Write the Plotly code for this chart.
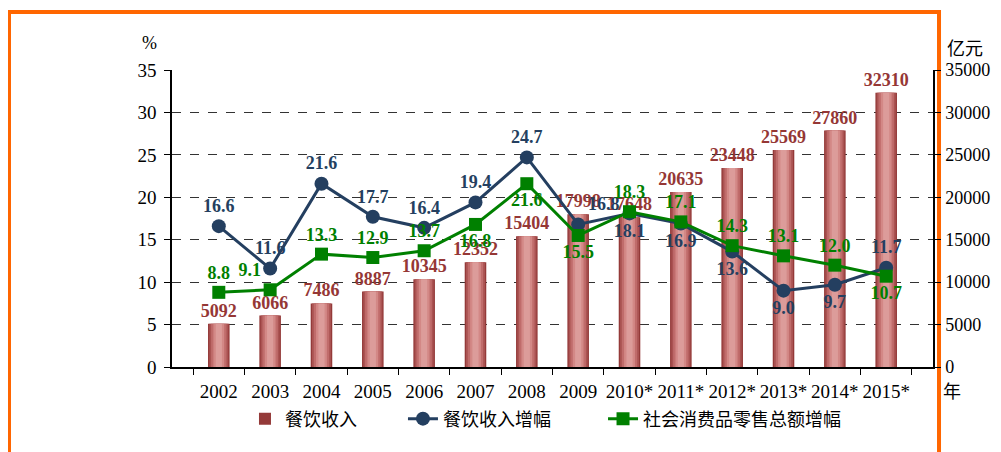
import plotly.graph_objects as go

years = ["2002", "2003", "2004", "2005", "2006", "2007", "2008", "2009",
         "2010*", "2011*", "2012*", "2013*", "2014*", "2015*"]
revenue = [5092, 6066, 7486, 8887, 10345, 12352, 15404, 17998,
           17648, 20635, 23448, 25569, 27860, 32310]
revenue_growth = [16.6, 11.6, 21.6, 17.7, 16.4, 19.4, 24.7, 16.8,
                  18.1, 16.9, 13.6, 9.0, 9.7, 11.7]
retail_growth = [8.8, 9.1, 13.3, 12.9, 13.7, 16.8, 21.6, 15.5,
                 18.3, 17.1, 14.3, 13.1, 12.0, 10.7]

blue_pos = ["top center", "top center", "top center", "top center", "top center",
            "top center", "top center", "top right", "bottom center", "bottom center",
            "bottom center", "bottom center", "bottom center", "top center"]
green_pos = ["top center", "top left", "top center", "top center", "top center",
             "bottom center", "bottom center", "bottom center", "top center", "top center",
             "top center", "top center", "top center", "bottom center"]

SERIF = "Liberation Serif"
CJK = "Noto Sans CJK SC"

fig = go.Figure()

layers = [(0.42, "#943A39"), (0.37, "#AA5352"), (0.30, "#C06C6B"), (0.21, "#D38886"), (0.12, "#DC9C9A")]
for i, (w, c) in enumerate(layers):
    fig.add_trace(go.Bar(
        x=years, y=revenue, width=w, marker=dict(color=c, line=dict(width=0)),
        name="餐饮收入", showlegend=(i == 0), yaxis="y", legend="legend",
        hoverinfo="skip" if i else None,
        text=[str(v) for v in revenue] if i == 0 else None,
        textposition="outside" if i == 0 else None,
        constraintext="none",
        textfont=dict(family=SERIF, size=18, color="#953735", weight="bold"),
        cliponaxis=False,
    ))

fig.add_trace(go.Scatter(
    x=years, y=revenue_growth, name="餐饮收入增幅", yaxis="y2", legend="legend2",
    mode="lines+markers+text", line=dict(color="#243F60", width=3),
    marker=dict(symbol="circle", size=14, color="#243F60"),
    text=[f"{v:.1f}" for v in revenue_growth], textposition=blue_pos,
    textfont=dict(family=SERIF, size=18, color="#243F60", weight="bold"),
    cliponaxis=False,
))
fig.add_trace(go.Scatter(
    x=years, y=retail_growth, name="社会消费品零售总额增幅", yaxis="y2", legend="legend3",
    mode="lines+markers+text", line=dict(color="#008000", width=3),
    marker=dict(symbol="square", size=13, color="#008000"),
    text=[f"{v:.1f}" for v in retail_growth], textposition=green_pos,
    textfont=dict(family=SERIF, size=18, color="#008000", weight="bold"),
    cliponaxis=False,
))

leg_common = dict(orientation="h", y=-0.175, xanchor="left", yanchor="middle",
                  font=dict(family=CJK, size=18, color="black"), bgcolor="rgba(0,0,0,0)")

fig.update_layout(
    width=993, height=444,
    margin=dict(l=164, r=68, t=62, b=85, autoexpand=False),
    paper_bgcolor="white", plot_bgcolor="white",
    barmode="overlay",
    font=dict(family=SERIF, size=16, color="black"),
    xaxis=dict(
        type="category", tickson="boundaries", ticks="outside", ticklen=6,
        tickangle=0, ticklabelstandoff=6,
        tickcolor="black", showline=True, linecolor="black", linewidth=1.5,
        showgrid=False, tickfont=dict(family=SERIF, size=19, color="black"),
    ),
    yaxis=dict(
        side="right", range=[0, 35000], dtick=5000, tickformat="d",
        ticks="outside", ticklen=6, ticklabelstandoff=1,
        tickcolor="black", showline=True, linecolor="black", linewidth=1.5,
        showgrid=True, gridcolor="#333333", griddash="dash", gridwidth=1,
        zeroline=False, tickfont=dict(family=SERIF, size=18, color="black"),
    ),
    yaxis2=dict(
        side="left", overlaying="y", range=[0, 35], dtick=5, ticks="outside", ticklen=6,
        ticklabelstandoff=4,
        tickcolor="black", showline=True, linecolor="black", linewidth=1.5,
        showgrid=False, zeroline=False, tickfont=dict(family=SERIF, size=19, color="black"),
    ),
    legend=dict(x=0.0959, **leg_common),
    legend2=dict(x=0.3035, **leg_common),
    legend3=dict(x=0.5664, **leg_common),
    annotations=[
        dict(text="%", xref="paper", yref="paper", x=-0.0296, y=1.091,
             xanchor="center", yanchor="middle",
             showarrow=False, font=dict(family=SERIF, size=18)),
        dict(text="亿元", xref="paper", yref="paper", x=1.042, y=1.0774,
             xanchor="center", yanchor="middle",
             showarrow=False, font=dict(family=CJK, size=18)),
        dict(text="年", xref="paper", yref="paper", x=1.025, y=-0.077,
             xanchor="center", yanchor="middle",
             showarrow=False, font=dict(family=CJK, size=18)),
    ],
    shapes=[
        dict(type="rect", xref="paper", yref="paper",
             x0=-0.2142, x1=1.0079, y0=-0.5, y1=1.1953,
             line=dict(color="#FF6600", width=4), fillcolor="rgba(0,0,0,0)", layer="below"),
    ],
)

fig.write_html("out.html")
